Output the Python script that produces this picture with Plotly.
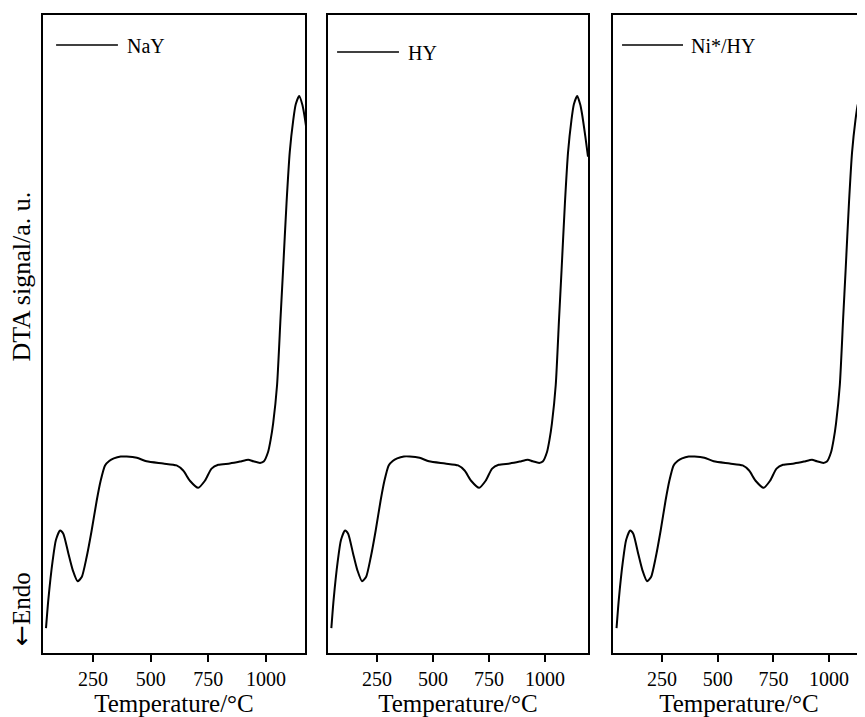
import plotly.graph_objects as go

# Temperature (°C) and DTA signal (a.u.)
temp = [46, 56, 75, 89, 107, 121, 143, 162, 183, 201, 222, 244, 266, 283, 302, 320, 340, 370,
        396, 440, 482, 554, 612, 641, 670, 706, 735, 764, 793, 843, 887, 923, 945, 974, 990,
        1009, 1020, 1031, 1048, 1063, 1074, 1089, 1103, 1118, 1129, 1144, 1158, 1165, 1180, 1192]
sig_nay = [3.9, 8.3, 14.5, 17.7, 19.2, 18.7, 15.6, 13.0, 11.25, 11.9, 15.0, 19.2, 23.9, 27.0, 29.4,
           30.1, 30.5, 30.8, 30.8, 30.6, 30.05, 29.7, 29.4, 28.6, 27.0, 25.9, 27.0, 28.9, 29.5,
           29.7, 30.0, 30.3, 30.05, 29.8, 30.0, 31.5, 33.4, 36.0, 42.0, 52.5, 60.0, 70.5, 78.5,
           83.5, 86.0, 87.3, 85.9, 84.6, 81.0, 77.8]
sig_hy = list(sig_nay)
sig_nihy = list(sig_nay)

names = ["NaY", "HY", "Ni*/HY"]
series = [sig_nay, sig_hy, sig_nihy]
tick_vals = [250, 500, 750, 1000]
tick_text = ["250", "500", "750", "1000"]

x_ranges = [[33, 1169], [31, 1192], [30, 1161]]
domains = [[0.0, 0.3187], [0.3467, 0.6630], [0.6934, 1.0]]
legend_pos = [  # x0, x1, y, text x, text y (axis-domain fractions)
    (0.050, 0.286, 0.953, 0.312, 0.951),
    (0.035, 0.273, 0.942, 0.300, 0.940),
    (0.036, 0.278, 0.953, 0.300, 0.951),
]

FONT = "Liberation Serif, Times New Roman, serif"

fig = go.Figure()
shapes = []
annotations = []
for i, (nm, s) in enumerate(zip(names, series)):
    k = "" if i == 0 else str(i + 1)
    fig.add_trace(go.Scatter(x=temp, y=s, mode="lines", name=nm,
                             line=dict(color="black", width=2, shape="spline", smoothing=0.6),
                             xaxis="x" + k, yaxis="y" + k, showlegend=False,
                             cliponaxis=True))
    ax = dict(domain=domains[i], range=x_ranges[i], anchor="y" + k,
              showline=True, linecolor="black", linewidth=1.6, mirror=True,
              ticks="outside", ticklen=7, tickwidth=1.5, tickcolor="black",
              tickvals=tick_vals, ticktext=tick_text, showgrid=False, zeroline=False,
              tickfont=dict(family=FONT, size=20, color="black"),
              title=dict(text="Temperature/°C", font=dict(family=FONT, size=25, color="black"),
                         standoff=0))
    ay = dict(domain=[0, 1], range=[0, 100], anchor="x" + k,
              showline=True, linecolor="black", linewidth=1.6, mirror=(i < 2),
              ticks="", showticklabels=False, showgrid=False, zeroline=False)
    fig.update_layout(**{"xaxis" + k: ax, "yaxis" + k: ay})
    x0, x1, yy, tx, ty = legend_pos[i]
    shapes.append(dict(type="line", xref=("x" + k + " domain"), yref=("y" + k + " domain"),
                       x0=x0, x1=x1, y0=yy, y1=yy, line=dict(color="black", width=1.5)))
    annotations.append(dict(text=nm, xref=("x" + k + " domain"), yref=("y" + k + " domain"),
                            x=tx, y=ty, xanchor="left", yanchor="middle", showarrow=False,
                            font=dict(family=FONT, size=20, color="black")))

annotations.append(dict(text="DTA signal/a. u.", xref="paper", yref="paper", x=-0.0255, y=0.59,
                        xanchor="center", yanchor="middle", textangle=-90, showarrow=False,
                        font=dict(family=FONT, size=26, color="black")))
annotations.append(dict(text="<span style='font-family:DejaVu Sans'>←</span>Endo",
                        xref="paper", yref="paper", x=-0.0255, y=0.069,
                        xanchor="center", yanchor="middle", textangle=-90, showarrow=False,
                        font=dict(family=FONT, size=25, color="black")))

# page body has an 8px margin, so the figure is offset by 8px
fig.update_layout(width=865, height=717, margin=dict(l=35, r=8, t=5, b=72),
                  paper_bgcolor="white", plot_bgcolor="white",
                  shapes=shapes, annotations=annotations, showlegend=False)

fig.write_html("out.html")
